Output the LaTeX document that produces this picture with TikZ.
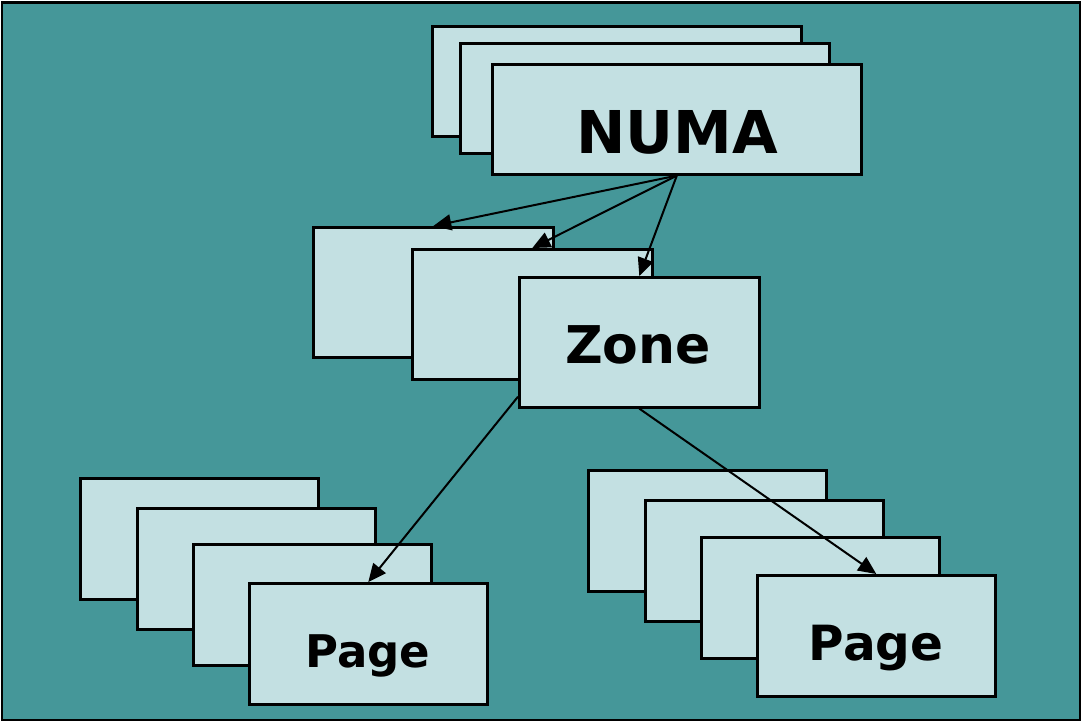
\documentclass[tikz,border=0pt]{standalone}
\usepackage{fontspec}
\setmainfont{DejaVu Sans}
\usetikzlibrary{arrows.meta,calc}
\definecolor{teal}{HTML}{459799}
\definecolor{boxfill}{HTML}{C3E0E2}
\tikzset{
  box/.style={draw=black, fill=boxfill, line width=2.6pt, inner sep=0pt, anchor=north west},
  numabox/.style={box, minimum width=369pt, minimum height=110pt},
  zonebox/.style={box, minimum width=240pt, minimum height=130pt},
  pagebox/.style={box, minimum width=238pt, minimum height=121pt},
  lbl/.style={anchor=base, inner sep=0pt, font=\bfseries},
  arr/.style={line width=2pt, -{Triangle[length=18pt,width=16pt]}}
}
\begin{document}
\begin{tikzpicture}[x=1pt,y=-1pt]
\useasboundingbox (0,0) rectangle (1082,724);
\fill[white] (0,0) rectangle (1082,724);
\draw[fill=teal, line width=2.8pt] (2,2.5) rectangle (1080,720);
% NUMA stack
\node[numabox] (n1) at (431,25) {};
\node[numabox] (n2) at (459,42) {};
\node[numabox] (numa) at (491,63) {};
\node[lbl, font=\fontsize{59}{59}\selectfont\bfseries] (tnuma) at (677,153) {NUMA};
% Zone stack
\node[zonebox] (z1) at (312,226) {};
\node[zonebox] (z2) at (411,248) {};
\node[zonebox] (zone) at (518,276) {};
\node[lbl, font=\fontsize{52}{52}\selectfont\bfseries] (tzone) at (638,363) {Zone};
% Left page stack
\node[pagebox] (l1) at (79,477) {};
\node[pagebox] (l2) at (136,507) {};
\node[pagebox] (l3) at (192,543) {};
\node[pagebox] (lpage) at (248,582) {};
\node[lbl, font=\fontsize{45}{45}\selectfont\bfseries] (tlpage) at (368,667) {Page};
% Right page stack
\node[pagebox] (r1) at (587,469) {};
\node[pagebox] (r2) at (644,499) {};
\node[pagebox] (r3) at (700,536) {};
\node[pagebox] (rpage) at (756,574) {};
\node[lbl, font=\fontsize{48.5}{48.5}\selectfont\bfseries] (trpage) at (876,660) {Page};
% arrows
\coordinate (zl) at ($(zone.north west)!0.91!(zone.south west)$);
\draw[arr] (numa.south) -- (z1.north);
\draw[arr] (numa.south) -- (z2.north);
\draw[arr] (numa.south) -- (zone.north);
\draw[arr] (zl) -- (lpage.north);
\draw[arr] (zone.south) -- (rpage.north);
\end{tikzpicture}
\end{document}
